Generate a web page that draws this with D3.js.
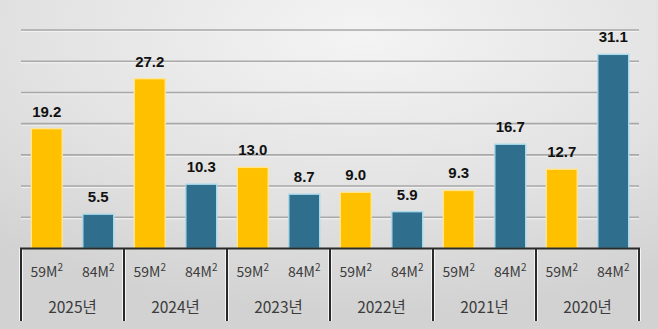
<!DOCTYPE html>
<html>
<head>
<meta charset="utf-8">
<script src="https://cdn.jsdelivr.net/npm/d3@7"></script>
<style>
  html, body { margin: 0; padding: 0; }
  body { width: 658px; height: 329px; overflow: hidden; }
  svg { display: block; }
</style>
</head>
<body>
<svg id="chart" width="658" height="329"></svg>
<script>
// Apartment size groups per year
const years = ["2025년", "2024년", "2023년", "2022년", "2021년", "2020년"];
const sizes = ["59M²", "84M²"];
const values59 = [19.2, 27.2, 13.0, 9.0, 9.3, 12.7];
const values84 = [5.5, 10.3, 8.7, 5.9, 16.7, 31.1];
const gridTicks = [5, 10, 15, 20, 25, 30, 35];

const W = 658, H = 329;
const margin = { left: 21, right: 19, top: 30, bottom: 80.5 };

const svg = d3.select("#chart");
const defs = svg.append("defs");

// soft grey backdrop, lighter toward the upper middle
const bg = defs.append("radialGradient")
  .attr("id", "bg").attr("cx", "55%").attr("cy", "10%").attr("r", "85%");
bg.append("stop").attr("offset", "0%").attr("stop-color", "#f4f4f4");
bg.append("stop").attr("offset", "60%").attr("stop-color", "#e2e2e2");
bg.append("stop").attr("offset", "100%").attr("stop-color", "#d2d2d2");
svg.append("rect").attr("width", W).attr("height", H).attr("fill", "url(#bg)");

const x0 = d3.scaleBand().domain(years)
  .range([margin.left, W - margin.right]).padding(0);
const x1 = d3.scaleBand().domain(sizes)
  .range([0, x0.bandwidth()]).paddingInner(0.4).paddingOuter(0.2);
const y = d3.scaleLinear().domain([0, 35]).range([H - margin.bottom, margin.top]);

// horizontal gridlines with a faint highlight beneath
const grid = svg.append("g");
grid.selectAll("line.hi").data(gridTicks).join("line")
  .attr("x1", margin.left).attr("x2", W - margin.right)
  .attr("y1", d => y(d) + 1.5).attr("y2", d => y(d) + 1.5)
  .attr("stroke", "#f2f2f2").attr("stroke-width", 1);
grid.selectAll("line.gl").data(gridTicks).join("line")
  .attr("x1", margin.left).attr("x2", W - margin.right)
  .attr("y1", d => y(d)).attr("y2", d => y(d))
  .attr("stroke", "#a9a9a9").attr("stroke-width", 1.6);

const rows = [];
years.forEach((yr, i) => {
  rows.push({ year: yr, size: sizes[0], value: values59[i] });
  rows.push({ year: yr, size: sizes[1], value: values84[i] });
});
const fillOf = { "59M²": "#ffc000", "84M²": "#2f6e8c" };
const edgeOf = { "59M²": "#ffe592", "84M²": "#a9d9ea" };

// bars
svg.append("g").selectAll("rect").data(rows).join("rect")
  .attr("x", d => x0(d.year) + x1(d.size))
  .attr("y", d => y(d.value))
  .attr("width", x1.bandwidth())
  .attr("height", d => y(0) - y(d.value))
  .attr("fill", d => fillOf[d.size])
  .attr("stroke", d => edgeOf[d.size])
  .attr("stroke-width", 1.4);

// value labels
svg.append("g").selectAll("text").data(rows).join("text")
  .attr("x", d => x0(d.year) + x1(d.size) + x1.bandwidth() / 2)
  .attr("y", d => y(d.value) - 12)
  .attr("text-anchor", "middle")
  .attr("font-family", "'Liberation Sans', Arial, sans-serif")
  .attr("font-weight", "bold")
  .attr("font-size", 15)
  .attr("fill", "#111")
  .text(d => d.value.toFixed(1));

// category axis: baseline and group dividers
const axis = svg.append("g");
const bounds = years.map(yr => x0(yr)).concat([x0.range()[1]]);
axis.selectAll("line.halo").data(bounds).join("line")
  .attr("x1", d => d).attr("x2", d => d)
  .attr("y1", y(0)).attr("y2", 321)
  .attr("stroke", "#f4f4f4").attr("stroke-width", 4);
axis.selectAll("line.div").data(bounds).join("line")
  .attr("x1", d => d).attr("x2", d => d)
  .attr("y1", y(0)).attr("y2", 321)
  .attr("stroke", "#2a2a2a").attr("stroke-width", 2);
axis.append("line")
  .attr("x1", margin.left - 1).attr("x2", W - margin.right + 1)
  .attr("y1", y(0)).attr("y2", y(0))
  .attr("stroke", "#2a2a2a").attr("stroke-width", 2);

// size labels, with the squared mark raised
const sizeText = axis.selectAll("text.size").data(rows).join("text")
  .attr("x", d => x0(d.year) + x1(d.size) + x1.bandwidth() / 2)
  .attr("y", 277)
  .attr("text-anchor", "middle")
  .attr("font-family", "'Noto Sans CJK KR', 'Noto Sans', sans-serif")
  .attr("font-size", 14)
  .attr("fill", "#3c3c3c");
sizeText.append("tspan").text(d => d.size.replace("²", ""));
sizeText.append("tspan").attr("font-size", 10).attr("dy", -6).text("2");

// year labels
axis.selectAll("text.year").data(years).join("text")
  .attr("x", d => x0(d) + x0.bandwidth() / 2)
  .attr("y", 313)
  .attr("text-anchor", "middle")
  .attr("font-family", "'Noto Sans CJK KR', 'Noto Sans', sans-serif")
  .attr("font-size", 15.5)
  .attr("fill", "#3c3c3c")
  .text(d => d);
</script>
</body>
</html>
